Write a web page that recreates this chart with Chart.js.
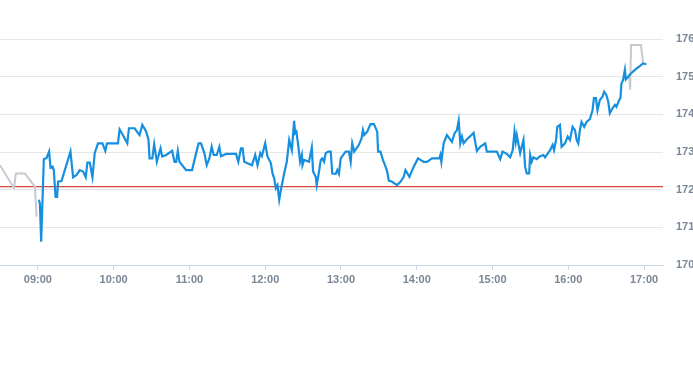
<!DOCTYPE html>
<html lang="en">
<head>
  <meta charset="UTF-8">
  <title>Intraday price</title>
  <script src="https://cdn.jsdelivr.net/npm/chart.js"></script>
  <style>
    * { margin: 0; padding: 0; box-sizing: border-box; }
    body { background: #fff; }
    .wrap { width: 693px; height: 365px; position: relative; }
  </style>
</head>
<body>
  <div class="wrap"><canvas id="priceChart"></canvas></div>

  <script>
    // times are minutes after midnight
    const blueTimes = [540.8,541.6,542.6,544.7,546.9,548.9,550.0,551.6,552.6,554.0,
      555.2,556.0,558.7,565.8,567.9,570.6,573.2,575.8,577.9,579.2,
      581.1,583.2,585.0,587.6,591.1,593.4,594.7,603.4,604.7,607.3,
      610.8,612.1,616.6,620.5,622.7,625.8,627.6,628.4,630.6,632.1,
      634.2,637.1,638.4,641.6,646.3,648.2,649.5,650.8,652.1,657.4,
      662.1,665.3,667.3,669.2,671.8,673.7,675.8,677.6,679.2,681.6,
      683.7,685.0,689.0,696.9,698.7,700.8,702.1,703.4,706.0,709.5,
      712.1,713.9,716.1,717.4,720.0,721.8,724.5,725.8,727.1,728.4,
      729.7,731.1,732.4,735.0,737.1,739.0,741.1,742.9,743.7,744.7,
      746.3,747.6,749.0,749.5,750.8,754.7,756.9,757.9,760.0,760.8,
      762.6,764.0,765.2,766.6,767.9,770.0,771.9,773.1,775.8,777.1,
      778.4,779.8,783.7,786.3,787.7,788.9,790.5,794.2,796.3,797.4,
      798.4,800.8,803.4,806.1,808.7,809.4,811.3,813.2,815.3,816.6,
      817.9,820.5,824.4,827.1,829.7,831.1,834.2,837.6,841.0,842.9,
      845.5,848.1,852.1,857.9,858.7,859.5,861.3,863.9,867.9,870.0,
      871.8,873.2,874.5,875.8,877.1,879.7,882.4,885.0,887.6,890.3,
      894.2,895.5,903.4,906.1,907.9,911.3,914.0,916.0,917.4,918.4,
      919.2,921.9,924.5,925.8,927.1,929.0,929.8,931.0,932.4,935.0,
      937.7,940.3,941.6,945.6,947.6,948.7,950.3,951.3,953.4,954.7,
      957.4,959.5,961.3,963.4,965.3,966.6,967.9,969.2,970.5,972.6,
      974.5,977.1,979.2,980.3,981.9,983.1,985.0,987.1,988.4,990.2,
      991.6,992.9,995.0,996.9,998.1,1000.3,1001.3,1002.1,1003.4,1004.8,
      1005.6,1007.4,1009.2,1012.7,1016.6,1019.2,1021.8];
    const bluePrices = [171.73,171.62,170.62,172.81,172.84,173.01,172.58,172.61,172.52,171.81,
      171.81,172.21,172.23,173.01,172.33,172.39,172.52,172.48,172.33,172.72,
      172.72,172.33,172.97,173.23,173.23,173.03,173.23,173.23,173.60,173.45,
      173.23,173.63,173.63,173.45,173.72,173.54,173.32,172.83,172.83,173.21,
      172.74,173.10,172.88,172.92,173.03,172.74,172.74,173.03,172.74,172.52,
      172.52,172.97,173.23,173.23,172.97,172.65,172.83,173.14,172.92,172.92,
      173.14,172.89,172.95,172.95,172.74,173.10,173.10,172.74,172.70,172.65,
      172.92,172.65,172.97,172.89,173.23,172.88,172.70,172.43,172.30,172.04,
      172.12,171.73,171.99,172.43,172.74,173.32,173.05,173.83,173.50,173.54,
      173.14,172.74,172.92,172.65,172.79,172.74,173.12,172.48,172.34,172.12,
      172.48,172.79,172.83,172.74,172.97,173.01,173.01,172.43,172.42,172.52,
      172.42,172.83,173.01,173.01,172.74,173.23,173.01,173.19,173.36,173.58,
      173.45,173.54,173.74,173.74,173.54,173.01,173.01,172.79,172.61,172.48,
      172.24,172.21,172.12,172.21,172.34,172.52,172.34,172.61,172.83,172.79,
      172.74,172.74,172.83,172.83,172.92,172.74,173.23,173.45,173.27,173.50,
      173.58,173.83,173.23,173.41,173.23,173.34,173.42,173.51,173.03,173.14,
      173.23,173.01,173.01,172.81,173.01,172.95,172.86,173.05,173.54,173.27,
      173.45,172.97,173.32,172.61,172.43,172.43,172.92,172.74,172.86,172.81,
      172.89,172.92,172.86,173.05,173.19,173.05,173.32,173.67,173.72,173.14,
      173.23,173.41,173.32,173.67,173.58,173.32,173.23,173.58,173.80,173.67,
      173.80,173.87,174.11,174.43,174.43,174.11,174.38,174.47,174.60,174.51,
      174.34,174.03,174.16,174.25,174.20,174.38,174.43,174.82,174.91,175.18,
      174.93,175.00,175.07,175.18,175.28,175.35,175.33];

    const preTimes = [510, 521.1, 522.6, 529.7, 537.6, 539.0];
    const prePrices = [172.65, 172.04, 172.43, 172.43, 172.08, 171.28];

    const postTimes = [1008.2, 1009.0, 1009.7, 1017.6, 1019.2];
    const postPrices = [175.07, 174.65, 175.84, 175.84, 175.35];

    const prevClose = 172.08;

    const tickMinutes = [540, 600, 660, 720, 780, 840, 900, 960, 1020];
    const tickLabels = ['09:00', '10:00', '11:00', '12:00', '13:00', '14:00', '15:00', '16:00', '17:00'];
    const priceTicks = [170, 171, 172, 173, 174, 175, 176];

    const xMin = 510, xMax = 1035;

    const pts = (xs, ys) => xs.map((x, i) => ({ x: x, y: ys[i] }));

    new Chart(document.getElementById('priceChart'), {
      type: 'line',
      data: {
        datasets: [
          {
            data: pts([xMin, xMax], [prevClose, prevClose]),
            borderColor: '#d8453c',
            borderWidth: 1.2,
            order: 3
          },
          {
            data: pts(preTimes, prePrices),
            borderColor: '#c5cad0',
            borderWidth: 2,
            order: 2
          },
          {
            data: pts(postTimes, postPrices),
            borderColor: '#c5cad0',
            borderWidth: 2,
            order: 2
          },
          {
            data: pts(blueTimes, bluePrices),
            borderColor: '#1690de',
            borderWidth: 2.2,
            order: 1
          }
        ]
      },
      options: {
        responsive: true,
        maintainAspectRatio: false,
        animation: false,
        layout: { padding: { top: 39 } },
        elements: { point: { radius: 0 }, line: { tension: 0 } },
        plugins: { legend: { display: false }, tooltip: { enabled: false } },
        scales: {
          x: {
            type: 'linear',
            min: xMin,
            max: xMax,
            afterBuildTicks: s => { s.ticks = tickMinutes.map(v => ({ value: v })); },
            afterFit: s => { s.height = 100; },
            grid: { drawOnChartArea: false, drawTicks: true, tickLength: 5, color: '#ccd6eb' },
            border: { color: '#ccd6eb' },
            ticks: {
              autoSkip: false,
              maxRotation: 0,
              padding: 3,
              color: '#7b8796',
              font: { family: 'Liberation Sans', size: 11, weight: 'bold' },
              callback: v => tickLabels[tickMinutes.indexOf(v)]
            }
          },
          y: {
            position: 'right',
            min: 170,
            max: 176,
            afterBuildTicks: s => { s.ticks = priceTicks.map(v => ({ value: v })); },
            afterFit: s => { s.width = 30; },
            grid: { color: '#e6e6e6', drawTicks: false },
            border: { display: false },
            ticks: {
              padding: 13,
              color: '#7b8796',
              font: { family: 'Liberation Sans', size: 11, weight: 'bold' }
            }
          }
        }
      }
    });
  </script>
</body>
</html>
